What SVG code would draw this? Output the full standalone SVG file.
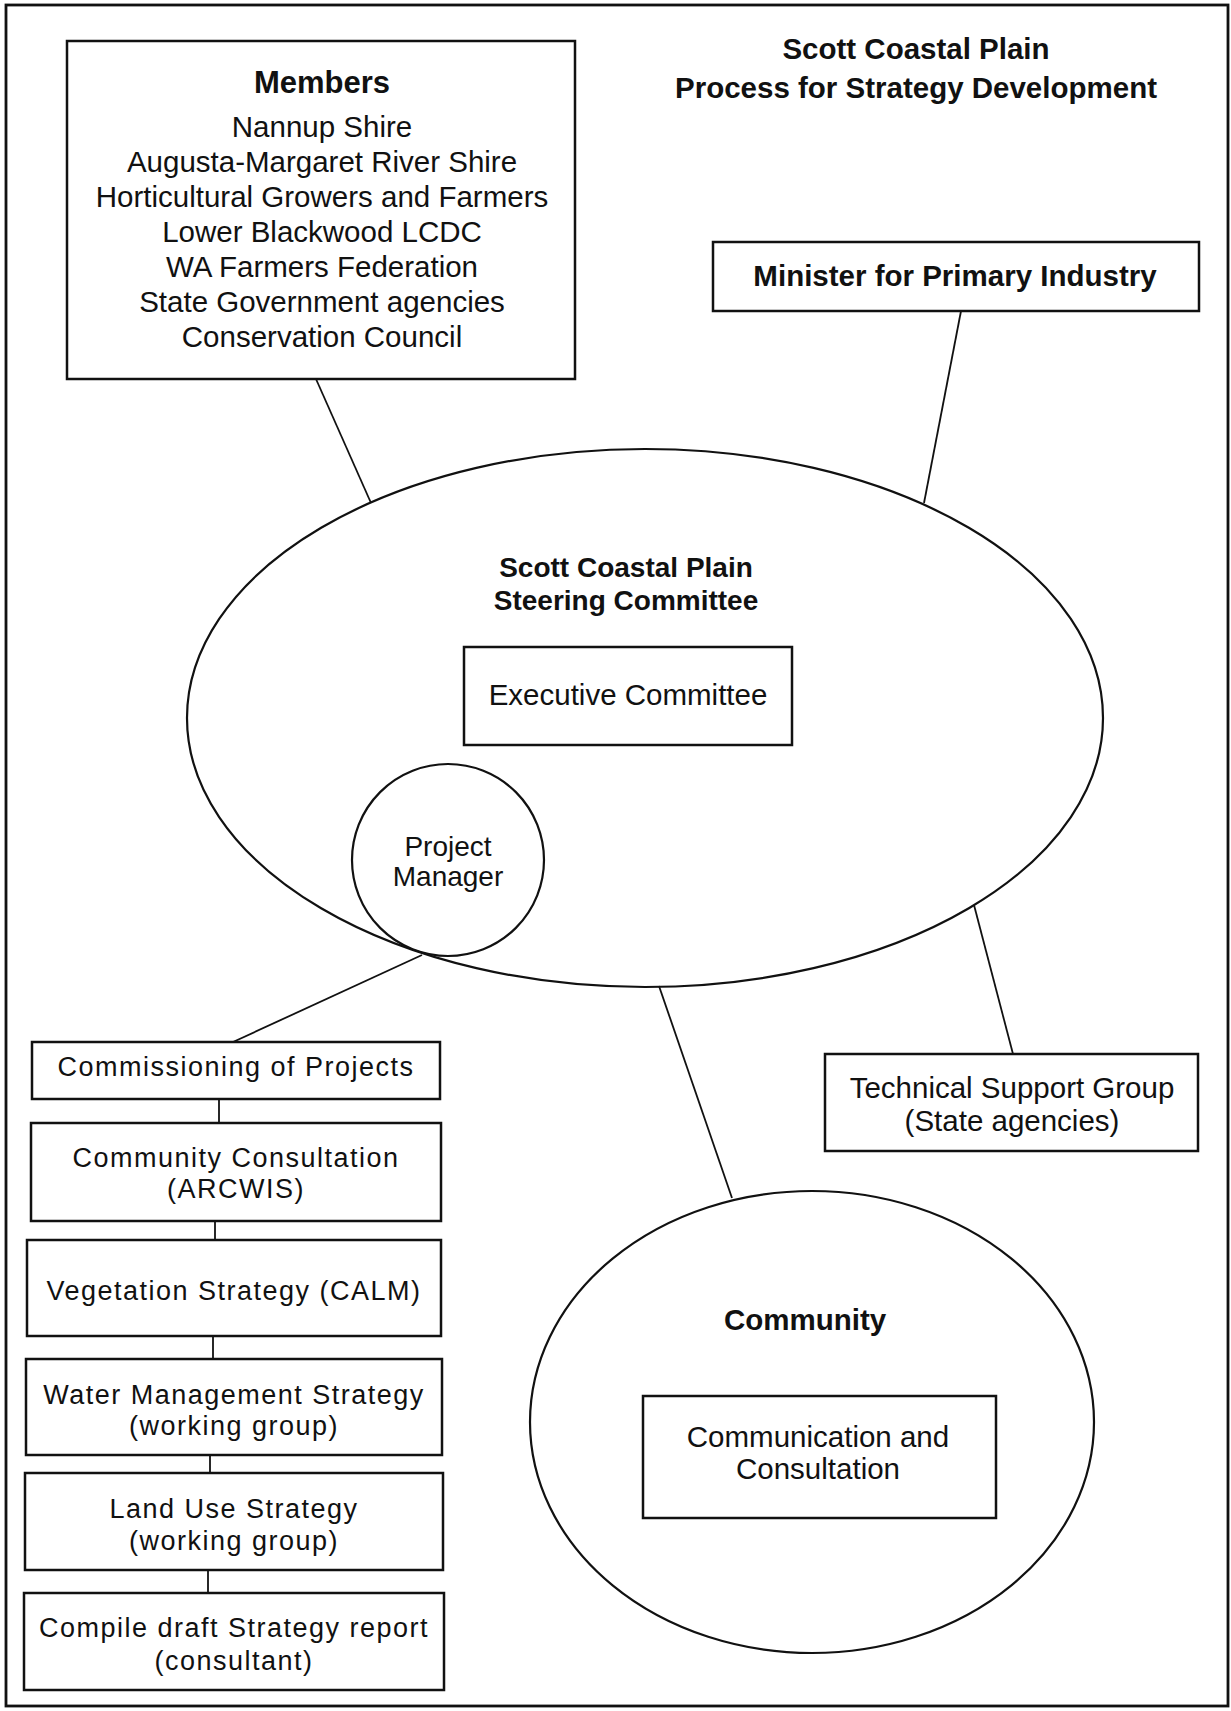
<svg xmlns="http://www.w3.org/2000/svg" width="1231" height="1711" viewBox="0 0 1231 1711">
<style>
.box{fill:#fff;stroke:#111;stroke-width:2.5}
.shape{fill:none;stroke:#111;stroke-width:2.2}
.ln{stroke:#111;stroke-width:1.8;fill:none}
text{font-family:"Liberation Sans",Arial,sans-serif;fill:#111;text-anchor:middle}
.r{font-size:29.5px}
.b{font-size:29.5px;font-weight:bold}
.s{font-size:27px;letter-spacing:1.5px}
</style>
<rect x="0" y="0" width="1231" height="1711" fill="#fff"/>
<rect x="6" y="5" width="1222" height="1701" fill="none" stroke="#111" stroke-width="2.8"/>
<g id="title">
<text class="b" x="916" y="59">Scott Coastal Plain</text>
<text class="b" x="916" y="98">Process for Strategy Development</text>
</g>
<g id="connectors">
<line class="ln" x1="316" y1="379" x2="371" y2="503"/>
<line class="ln" x1="961" y1="311" x2="924" y2="503"/>
<line class="ln" x1="422" y1="955" x2="233" y2="1042"/>
<line class="ln" x1="659" y1="986" x2="732" y2="1198"/>
<line class="ln" x1="974" y1="905" x2="1013" y2="1054"/>
<line class="ln" x1="219" y1="1099" x2="219" y2="1123"/>
<line class="ln" x1="215" y1="1221" x2="215" y2="1240"/>
<line class="ln" x1="213" y1="1336" x2="213" y2="1359"/>
<line class="ln" x1="210" y1="1455" x2="210" y2="1473"/>
<line class="ln" x1="208" y1="1570" x2="208" y2="1593"/>
</g>
<g id="members">
<rect class="box" x="67" y="41" width="508" height="338"/>
<text x="322" y="93" style="font-size:31px;font-weight:bold">Members</text>
<text class="r" x="322" y="137">Nannup Shire</text>
<text class="r" x="322" y="172">Augusta-Margaret River Shire</text>
<text class="r" x="322" y="207">Horticultural Growers and Farmers</text>
<text class="r" x="322" y="242">Lower Blackwood LCDC</text>
<text class="r" x="322" y="277">WA Farmers Federation</text>
<text class="r" x="322" y="312">State Government agencies</text>
<text class="r" x="322" y="347">Conservation Council</text>
</g>
<g id="minister">
<rect class="box" x="713" y="242" width="486" height="69"/>
<text class="b" x="955" y="286">Minister for Primary Industry</text>
</g>
<g id="steering">
<ellipse class="shape" cx="645" cy="718" rx="458" ry="269"/>
<text class="b" x="626" y="577" style="font-size:28px">Scott Coastal Plain</text>
<text class="b" x="626" y="610" style="font-size:28px">Steering Committee</text>
</g>
<g id="executive">
<rect class="box" x="464" y="647" width="328" height="98"/>
<text class="r" x="628" y="705">Executive Committee</text>
</g>
<g id="manager">
<circle class="shape" cx="448" cy="860" r="96"/>
<text x="448" y="856" style="font-size:28px">Project</text>
<text x="448" y="886" style="font-size:28px">Manager</text>
</g>
<g id="commissioning">
<rect class="box" x="32" y="1042" width="408" height="57"/>
<text class="s" x="236" y="1076">Commissioning of Projects</text>
</g>
<g id="consultation">
<rect class="box" x="31" y="1123" width="410" height="98"/>
<text class="s" x="236" y="1167">Community Consultation</text>
<text class="s" x="236" y="1198">(ARCWIS)</text>
</g>
<g id="vegetation">
<rect class="box" x="27" y="1240" width="414" height="96"/>
<text class="s" x="234" y="1300">Vegetation Strategy (CALM)</text>
</g>
<g id="water">
<rect class="box" x="26" y="1359" width="416" height="96"/>
<text class="s" x="234" y="1404">Water Management Strategy</text>
<text class="s" x="234" y="1435">(working group)</text>
</g>
<g id="landuse">
<rect class="box" x="25" y="1473" width="418" height="97"/>
<text class="s" x="234" y="1518">Land Use Strategy</text>
<text class="s" x="234" y="1550">(working group)</text>
</g>
<g id="compile">
<rect class="box" x="24" y="1593" width="420" height="97"/>
<text class="s" x="234" y="1637">Compile draft Strategy report</text>
<text class="s" x="234" y="1670">(consultant)</text>
</g>
<g id="technical">
<rect class="box" x="825" y="1054" width="373" height="97"/>
<text class="r" x="1012" y="1098">Technical Support Group</text>
<text class="r" x="1012" y="1131">(State agencies)</text>
</g>
<g id="community">
<ellipse class="shape" cx="812" cy="1422" rx="282" ry="231"/>
<text class="b" x="805" y="1330">Community</text>
</g>
<g id="communication">
<rect class="box" x="643" y="1396" width="353" height="122"/>
<text class="r" x="818" y="1447">Communication and</text>
<text class="r" x="818" y="1479">Consultation</text>
</g>
</svg>
